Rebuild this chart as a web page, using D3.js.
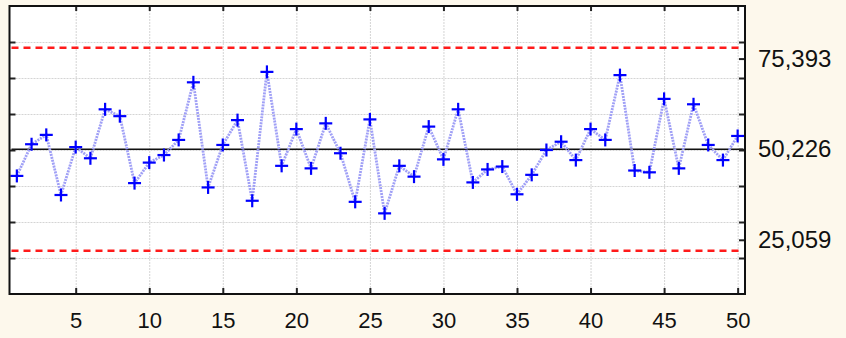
<!DOCTYPE html>
<html>
<head>
<meta charset="utf-8">
<script src="https://cdn.jsdelivr.net/npm/d3@7"></script>
<style>
  body { margin: 0; background: #fdf8ec; }
  svg { display: block; }
</style>
</head>
<body>
<div id="chart"></div>
<script>
// sample number 1..50 and measured values
const samples = d3.range(1, 51);
const values = [
  42.8, 51.6, 54.2, 37.5, 50.8, 47.7, 61.3, 59.4, 40.8, 46.5,
  48.6, 52.8, 68.8, 39.6, 51.4, 58.3, 35.9, 71.7, 45.6, 55.8,
  44.9, 57.4, 49.1, 35.6, 58.5, 32.4, 45.6, 42.6, 56.5, 47.4,
  61.3, 41.0, 44.6, 45.4, 37.7, 43.1, 50.0, 52.3, 47.2, 55.8,
  52.8, 70.8, 44.3, 43.8, 64.2, 44.9, 62.7, 51.4, 47.2, 53.9
];
const center = 50.226;
const ucl = 78.42;
const lcl = 22.03;
const labelTicks = [25.059, 50.226, 75.393];
const gridTicks = [20, 30, 40, 50, 60, 70, 80];
const xTicks = [5, 10, 15, 20, 25, 30, 35, 40, 45, 50];

const W = 846, H = 338;
const pLeft = 9.5, pRight = 745, pTop = 6, pBottom = 294;

const svg = d3.select("#chart").append("svg")
    .attr("width", W)
    .attr("height", H);

svg.append("rect")
    .attr("width", W).attr("height", H)
    .attr("fill", "#fdf8ec");

const x = d3.scaleLinear().domain([0.5, 50.5]).range([pLeft, pRight]);
const y = d3.scaleLinear().domain([10, 90]).range([pBottom, pTop]);

const comma = d3.formatLocale({decimal: ",", thousands: ".", grouping: [3], currency: ["", ""]});
const fmt = comma.format(".3f");

svg.append("rect")
    .attr("x", pLeft).attr("y", pTop)
    .attr("width", pRight - pLeft).attr("height", pBottom - pTop)
    .attr("fill", "#fff");

// grid
const grid = svg.append("g").attr("class", "grid");
grid.append("g")
    .attr("transform", `translate(0,${pBottom})`)
    .call(d3.axisBottom(x).tickValues(xTicks).tickSize(-(pBottom - pTop)).tickFormat(""));
grid.append("g")
    .attr("transform", `translate(${pLeft},0)`)
    .call(d3.axisLeft(y).tickValues(gridTicks).tickSize(-(pRight - pLeft)).tickFormat(""));
grid.selectAll(".domain").remove();
grid.selectAll("line")
    .attr("stroke", "#d4d4d4")
    .attr("stroke-width", 1)
    .attr("stroke-dasharray", "2,1");

// control limits
function hline(v, color, width, dash) {
  svg.append("line")
      .attr("x1", pLeft + 2).attr("x2", pRight - 2)
      .attr("y1", y(v)).attr("y2", y(v))
      .attr("stroke", color)
      .attr("stroke-width", width)
      .attr("stroke-dasharray", dash);
}
hline(ucl, "#ff1a1a", 2.5, "7,5");
hline(lcl, "#ff1a1a", 2.5, "7,5");
hline(center, "#111", 1.6, null);

// series line
const line = d3.line()
    .x((d, i) => x(samples[i]))
    .y(d => y(d));

svg.append("path")
    .datum(values)
    .attr("fill", "none")
    .attr("stroke", "#a0a0f6")
    .attr("stroke-width", 2.8)
    .attr("stroke-dasharray", "2,1")
    .attr("d", line);

// markers
const plus = svg.append("g").selectAll("g")
    .data(values)
    .enter().append("g")
    .attr("transform", (d, i) => `translate(${x(samples[i])},${y(d)})`)
    .attr("stroke", "#0000ff")
    .attr("stroke-width", 2.2);
plus.append("line").attr("x1", -6.5).attr("x2", 6.5);
plus.append("line").attr("y1", -6.5).attr("y2", 6.5);

// axes with inward ticks
function styleAxis(g) {
  g.selectAll(".domain").remove();
  g.selectAll(".tick line").attr("stroke", "#222").attr("stroke-width", 2);
  g.selectAll("text")
      .attr("fill", "#111")
      .style("font-family", "'Liberation Sans', Arial, sans-serif");
}

svg.append("g")
    .attr("transform", `translate(0,${pBottom})`)
    .call(d3.axisBottom(x).tickValues(xTicks).tickSize(-6).tickPadding(18.5))
    .call(styleAxis)
    .selectAll("text").style("font-size", "22px");

svg.append("g")
    .attr("transform", `translate(0,${pTop})`)
    .call(d3.axisTop(x).tickValues(xTicks).tickSize(-5).tickFormat(""))
    .call(styleAxis);

svg.append("g")
    .attr("transform", `translate(${pLeft},0)`)
    .call(d3.axisLeft(y).tickValues(gridTicks).tickSize(-6).tickFormat(""))
    .call(styleAxis);

svg.append("g")
    .attr("transform", `translate(${pRight},0)`)
    .call(d3.axisRight(y).tickValues(gridTicks).tickSize(-6).tickFormat(""))
    .call(styleAxis);

svg.append("g")
    .attr("transform", `translate(${pRight},0)`)
    .call(d3.axisRight(y).tickValues(labelTicks).tickSize(-6).tickPadding(13).tickFormat(fmt))
    .call(styleAxis)
    .selectAll("text").style("font-size", "24px");

// frame
svg.append("rect")
    .attr("x", pLeft).attr("y", pTop)
    .attr("width", pRight - pLeft).attr("height", pBottom - pTop)
    .attr("fill", "none")
    .attr("stroke", "#111")
    .attr("stroke-width", 2);
</script>
</body>
</html>
